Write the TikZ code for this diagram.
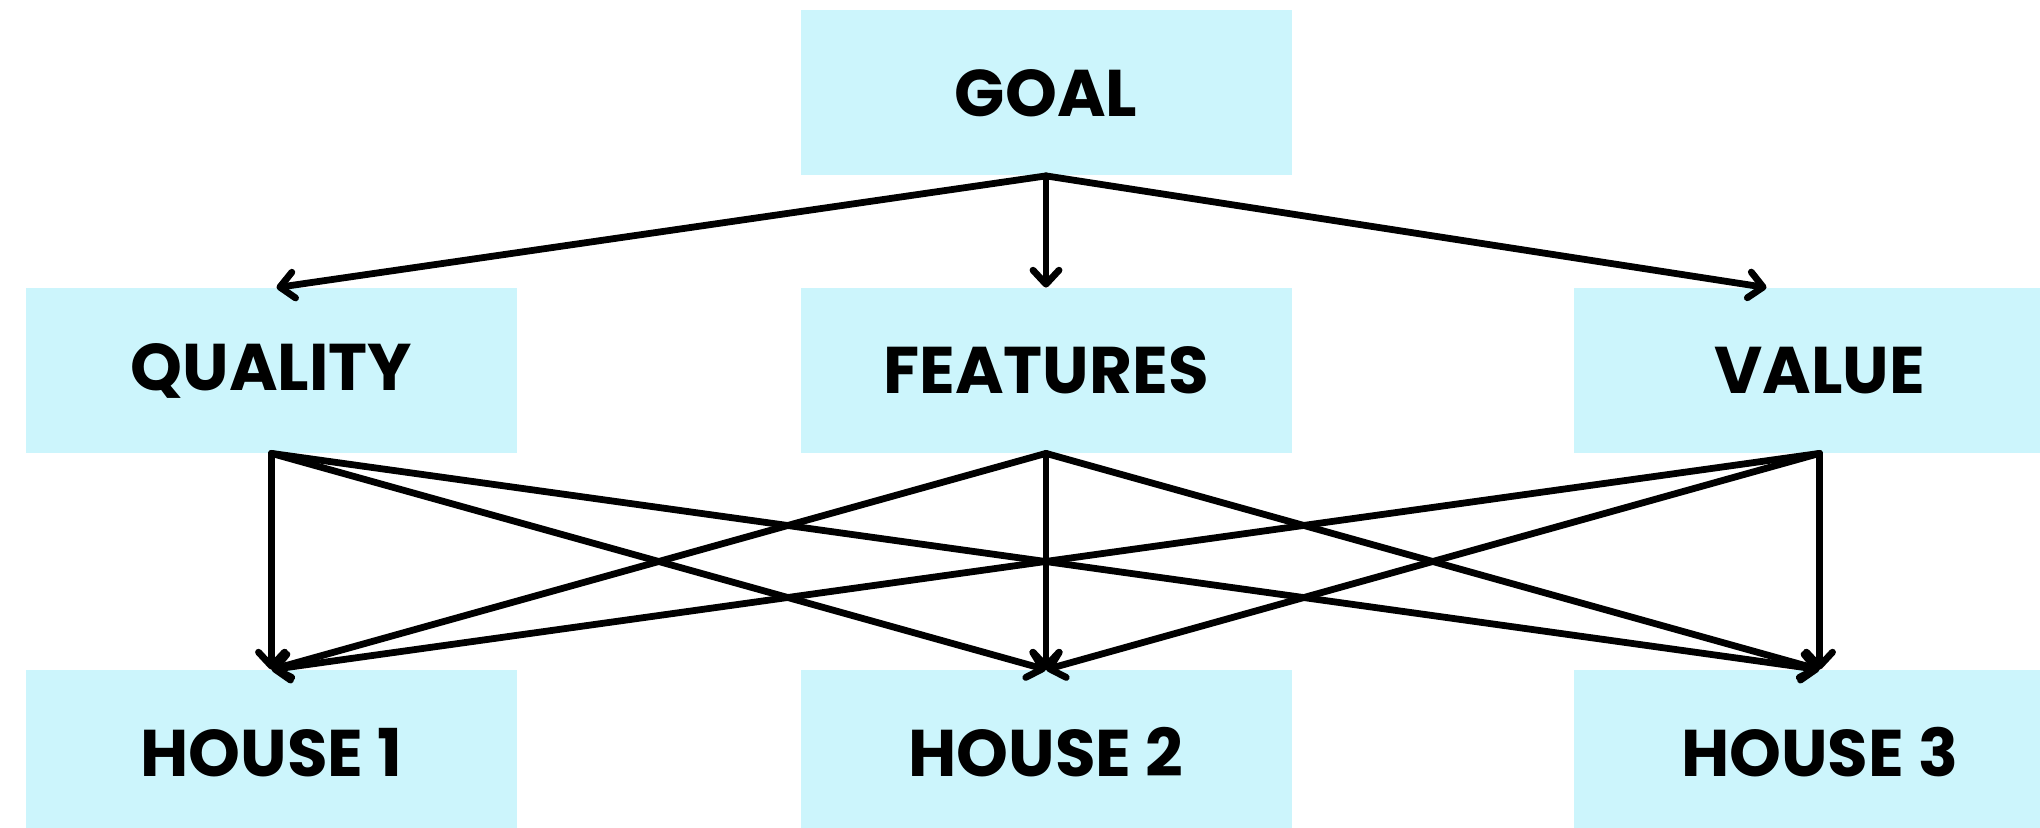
\documentclass[tikz,border=0pt]{standalone}
\usepackage{fontspec}
\setmainfont{Poppins}
\usetikzlibrary{arrows.meta,calc}
\definecolor{boxfill}{HTML}{CCF5FC}
\tikzset{
  box/.style={fill=boxfill, draw=none, minimum width=245.5pt, minimum height=82.5pt, inner sep=0pt,
    font=\fontsize{33}{40}\selectfont\bfseries},
  conn/.style={line width=3.4pt, line cap=round, line join=round, -{Straight Barb[length=7pt,width=13pt,line cap=round,line join=round]}}
}
\begin{document}
\begin{tikzpicture}[x=0.5pt,y=-0.5pt]
\useasboundingbox (0,0) rectangle (2040,828);
\clip (0,0) rectangle (2040,828);
\node[box] (goal) at (1046,93) {GOAL};
\node[box] (quality) at (271.5,370.5) {QUALITY};
\node[box] (features) at (1046,370.5) {FEATURES};
\node[box] (value) at (1819.5,370.5) {VALUE};
\node[box] (h1) at (271.5,752.5) {HOUSE 1};
\node[box] (h2) at (1046,752.5) {HOUSE 2};
\node[box] (h3) at (1819.5,752.5) {HOUSE 3};
\coordinate (qin) at ($(quality.north)+(5,0)$);
\coordinate (vin) at ($(value.north)+(-53,0)$);
\draw[conn] (goal.south) -- (qin);
\draw[conn] (goal.south) -- (features.north);
\draw[conn] (goal.south) -- (vin);
\foreach \s in {quality,features,value}{
  \foreach \t in {h1,h2,h3}{
    \draw[conn] (\s.south) -- (\t.north);
  }
}
\end{tikzpicture}
\end{document}
